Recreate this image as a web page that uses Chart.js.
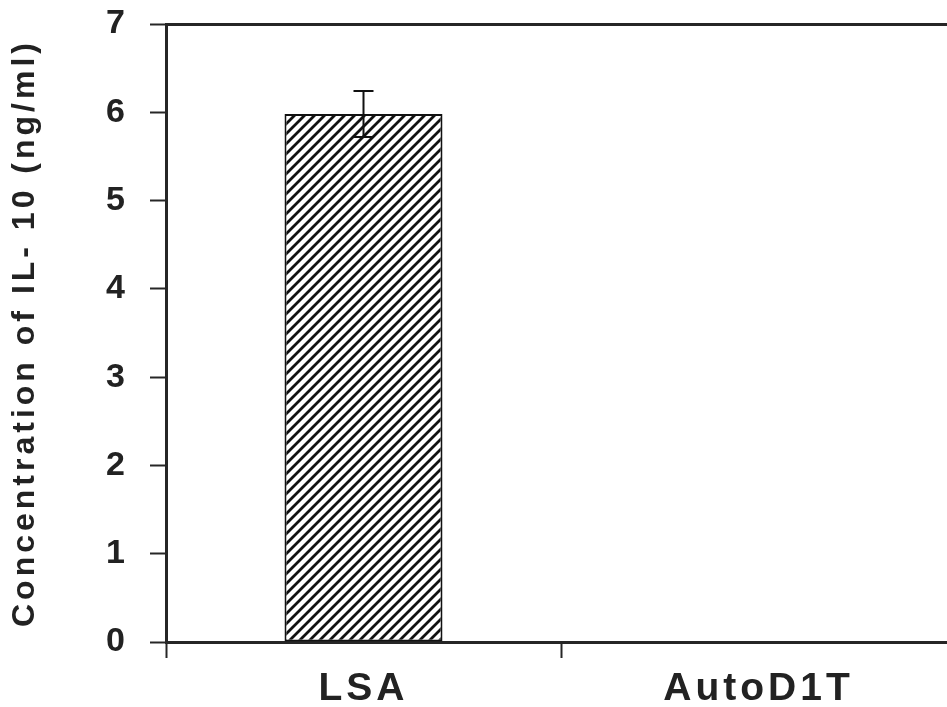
<!DOCTYPE html>
<html lang="en">
<head>
    <meta charset="UTF-8">
    <title>IL-10 concentration</title>
    <script src="https://cdn.jsdelivr.net/npm/chart.js"></script>
    <style>
        html, body { margin: 0; padding: 0; background: #fff; overflow: hidden; }
        #wrap { width: 1000px; height: 707px; }
    </style>
</head>
<body>
    <div id="wrap"><canvas id="barChart"></canvas></div>

    <script>
        // data
        const groups = ["LSA", "AutoD1T"];
        const il10 = [5.98, 0];
        const il10Err = [0.26, 0];
        const yTicks = [0, 1, 2, 3, 4, 5, 6, 7];

        const ink = "#262626";

        // diagonal hatch fill
        function makeHatch() {
            const c = document.createElement("canvas");
            c.width = 10; c.height = 10;
            const g = c.getContext("2d");
            g.fillStyle = "#fff";
            g.fillRect(0, 0, 10, 10);
            g.strokeStyle = "#111";
            g.lineWidth = 2.8;
            g.beginPath();
            g.moveTo(-2, 12); g.lineTo(12, -2);
            g.moveTo(-2, 2); g.lineTo(2, -2);
            g.moveTo(8, 12); g.lineTo(12, 8);
            g.stroke();
            return document.getElementById("barChart").getContext("2d").createPattern(c, "repeat");
        }

        // the figure's lettering is spaced out a bit
        const spacing = {
            id: "spacing",
            beforeDraw(chart) { chart.ctx.letterSpacing = "4px"; }
        };

        const errorBars = {
            id: "errorBars",
            afterDatasetsDraw(chart) {
                const ctx = chart.ctx;
                const y = chart.scales.y;
                const meta = chart.getDatasetMeta(0);
                ctx.save();
                ctx.strokeStyle = "#111";
                ctx.lineWidth = 2;
                meta.data.forEach((bar, i) => {
                    const e = il10Err[i];
                    if (!e) return;
                    const top = y.getPixelForValue(il10[i] + e);
                    const bot = y.getPixelForValue(il10[i] - e);
                    ctx.beginPath();
                    ctx.moveTo(bar.x, top); ctx.lineTo(bar.x, bot);
                    ctx.moveTo(bar.x - 10, top); ctx.lineTo(bar.x + 10, top);
                    ctx.moveTo(bar.x - 10, bot); ctx.lineTo(bar.x + 10, bot);
                    ctx.stroke();
                });
                ctx.restore();
            }
        };

        new Chart(document.getElementById("barChart"), {
            type: "bar",
            data: {
                labels: groups,
                datasets: [{
                    data: il10,
                    backgroundColor: makeHatch(),
                    borderColor: "#111",
                    borderWidth: 2,
                    borderSkipped: false,
                    barPercentage: 0.4,
                    categoryPercentage: 1.0
                }]
            },
            options: {
                responsive: true,
                maintainAspectRatio: false,
                animation: false,
                layout: { padding: { left: 0, right: 44, top: 0, bottom: 0 } },
                plugins: { legend: { display: false }, tooltip: { enabled: false } },
                scales: {
                    x: {
                        offset: true,
                        grid: { offset: true, drawOnChartArea: false, tickLength: 16, tickWidth: 2, tickColor: ink },
                        border: { color: ink, width: 3 },
                        ticks: { color: "#222", padding: 8, maxRotation: 0, font: { family: "Liberation Sans", size: 39, weight: "bold" } },
                        afterFit: (s) => { s.height = 65; s.paddingLeft = 0; s.paddingRight = 0; }
                    },
                    x2: {
                        position: "top",
                        type: "category",
                        labels: groups,
                        grid: { display: false },
                        ticks: { display: false },
                        border: { color: ink, width: 3 },
                        afterFit: (s) => { s.height = 24; }
                    },
                    y: {
                        min: 0,
                        max: 7,
                        afterBuildTicks: (s) => { s.ticks = yTicks.map(v => ({ value: v })); },
                        grid: { drawOnChartArea: false, tickLength: 16, tickWidth: 2, tickColor: ink },
                        border: { color: ink, width: 3 },
                        ticks: { color: "#222", padding: 21, font: { family: "Liberation Sans", size: 34, weight: "bold" } },
                        title: {
                            display: true,
                            text: "Concentration of IL- 10 (ng/ml)",
                            color: "#222",
                            padding: { top: 6, bottom: 0 },
                            font: { family: "Liberation Sans", size: 32, weight: "bold" }
                        },
                        afterFit: (s) => { s.width = 166; s.paddingTop = 0; s.paddingBottom = 0; }
                    }
                }
            },
            plugins: [spacing, errorBars]
        });
    </script>
</body>
</html>
